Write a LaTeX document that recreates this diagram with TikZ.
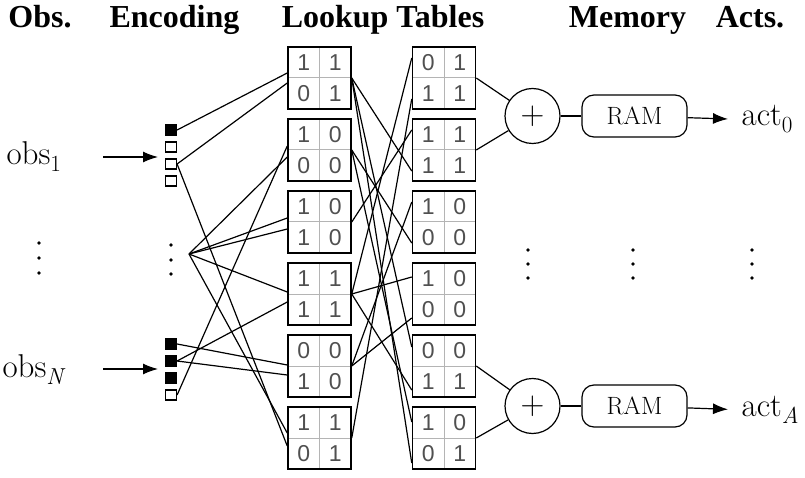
\documentclass[tikz,border=0pt]{standalone}
\usepackage{fontspec}
\newfontfamily\headfont{Liberation Serif}
\newfontfamily\digitfont{Liberation Sans}
\usetikzlibrary{arrows.meta,calc}

\definecolor{digitgray}{HTML}{505050}
\definecolor{gridgray}{HTML}{B4B4B4}

% one lookup table: name, position, four entries
\newcommand{\lut}[6]{%
  \node[lut] (#1) at (#2) {};
  \node[digit] (#1-11) at ([xshift=-15.75pt,yshift=15.5pt]#1.center) {#3};
  \node[digit] (#1-12) at ([xshift=15.75pt,yshift=15.5pt]#1.center) {#4};
  \node[digit] (#1-21) at ([xshift=-15.75pt,yshift=-15.5pt]#1.center) {#5};
  \node[digit] (#1-22) at ([xshift=15.75pt,yshift=-15.5pt]#1.center) {#6};
}
% a label with a lowered index, all in text fonts
\newcommand{\idx}[2]{#1\textsubscript{#2}}

\begin{document}
\begin{tikzpicture}[x=1pt, y=-1pt, line width=1.2pt,
  lut/.style = {draw, line width=1.5pt, minimum width=63pt, minimum height=62pt, inner sep=0pt,
    path picture={\draw[gridgray, line width=1pt]
      (path picture bounding box.north) -- (path picture bounding box.south)
      (path picture bounding box.west) -- (path picture bounding box.east);}},
  digit/.style = {text=digitgray, font=\digitfont\fontsize{23}{23}\selectfont, inner sep=0pt},
  bit/.style = {draw, line width=1.2pt, minimum width=11pt, minimum height=10pt, inner sep=0pt},
  head/.style = {font=\headfont\bfseries\fontsize{32}{32}\selectfont, anchor=base},
  big/.style = {font=\fontsize{33}{40}\selectfont, inner sep=0pt},
  sum/.style = {draw, circle, minimum size=55pt, inner sep=0pt, font=\fontsize{33}{33}\selectfont},
  ram/.style = {draw, rounded corners=12pt, minimum width=105pt, minimum height=42pt, inner sep=0pt,
    font=\fontsize{25}{25}\selectfont},
  arr/.style = {-{Latex[length=15pt, width=11pt]}},
  dot/.style = {fill, circle, minimum size=3.6pt, inner sep=0pt}]
\useasboundingbox (0,0) rectangle (805,478);

% headers
\node[head] (hobs) at (40,28) {Obs.};
\node[head] (henc) at (174.5,28) {Encoding};
\node[head] (hlut) at (383,28) {Lookup Tables};
\node[head] (hmem) at (627.5,28) {Memory};
\node[head] (hact) at (750,28) {Acts.};

% observations
\node[big, anchor=base west] (obs1) at (6,165) {\idx{obs}{1}};
\node[big, anchor=base west] (obsN) at (2,377) {\idx{obs}{\textit{N}}};
\coordinate (in1) at (103,157);
\coordinate (enc1) at (158,157);
\coordinate (inN) at (103,369);
\coordinate (encN) at (158,369);
\draw[arr] (in1) -- (enc1);
\draw[arr] (inN) -- (encN);
\foreach \k/\y in {1/243,2/258,3/273} \node[dot] (od\k) at (39,\y) {};

% encoding bits
\foreach \i/\f in {1/black,2/white,3/white,4/white}
  \node[bit, fill=\f] (u\i) at (171,{113+17*\i}) {};
\foreach \i/\f in {1/black,2/black,3/black,4/white}
  \node[bit, fill=\f] (v\i) at (171,{327+17*\i}) {};
\foreach \k/\y in {1/245,2/260,3/274} \node[dot] (ed\k) at (171,\y) {};
\coordinate (hub) at (189,254);

% lookup tables
\lut{a1}{319.5,78}{1}{1}{0}{1}
\lut{a2}{319.5,150}{1}{0}{0}{0}
\lut{a3}{319.5,222}{1}{0}{1}{0}
\lut{a4}{319.5,294}{1}{1}{1}{1}
\lut{a5}{319.5,366}{0}{0}{1}{0}
\lut{a6}{319.5,438}{1}{1}{0}{1}
\lut{b1}{444,78}{0}{1}{1}{1}
\lut{b2}{444,150}{1}{1}{1}{1}
\lut{b3}{444,222}{1}{0}{0}{0}
\lut{b4}{444,294}{1}{0}{0}{0}
\lut{b5}{444,366}{0}{0}{1}{1}
\lut{b6}{444,438}{1}{0}{0}{1}

% encoding to first tables
\draw (u1.east) -- ([yshift=5pt]a1.west);
\draw (u3.east) -- ([yshift=-5pt]a1.west);
\draw (u3.east) -- ([yshift=-8pt]a6.west);
\draw (v4.east) -- ([yshift=4pt]a2.west);
\draw (hub) -- ([yshift=-7pt]a2.west);
\draw (hub) -- ([yshift=4pt]a3.west);
\draw (hub) -- ([yshift=-7pt]a3.west);
\draw (hub) -- ([yshift=2pt]a4.west);
\draw (v2.east) -- ([yshift=-8pt]a4.west);
\draw (v1.east) -- ([yshift=1pt]a5.west);
\draw (v2.east) -- ([yshift=-9pt]a5.west);
\draw (hub) -- ([yshift=5pt]a6.west);

% first tables to second tables
\draw (a1.east) -- ([yshift=-21pt]b2.west);
\draw (a1.east) -- ([yshift=19pt]b5.west);
\draw (a1.east) -- ([yshift=-25pt]b6.west);
\draw (a2.east) -- ([yshift=-21pt]b3.west);
\draw (a2.east) -- ([yshift=16pt]b6.west);
\draw (a3.east) -- ([yshift=20pt]b2.west);
\draw (a4.east) -- ([yshift=17pt]b4.west);
\draw (a4.east) -- ([yshift=-24pt]b5.west);
\draw (a4.east) -- ([yshift=20pt]b1.west);
\draw (a5.east) -- ([yshift=-24pt]b4.west);
\draw (a5.east) -- ([yshift=20pt]b3.west);
\draw (a6.east) -- ([yshift=-21pt]b1.west);

% memory
\node[sum] (s1) at (532.5,116) {+};
\node[sum] (sA) at (532.5,406) {+};
\node[ram] (r1) at (634.5,116) {RAM};
\node[ram] (rA) at (634.5,406) {RAM};
\draw (b1.east) -- (s1);
\draw (b2.east) -- (s1);
\draw (b5.east) -- (sA);
\draw (b6.east) -- (sA);
\draw (s1) -- (r1);
\draw (sA) -- (rA);

% actions
\node[big, anchor=base west] (act0) at (741,126) {\idx{act}{0}};
\node[big, anchor=base west] (actA) at (741,416) {\idx{act}{\textit{A}}};
\draw[arr, shorten >=13pt] (r1) -- (act0.west);
\draw[arr, shorten >=13pt] (rA) -- (actA.west);
\foreach \x/\n in {528/m,633/r,752/a}
  \foreach \k/\y in {1/250,2/264,3/278} \node[dot] (\n\k) at (\x,\y) {};
\end{tikzpicture}
\end{document}
